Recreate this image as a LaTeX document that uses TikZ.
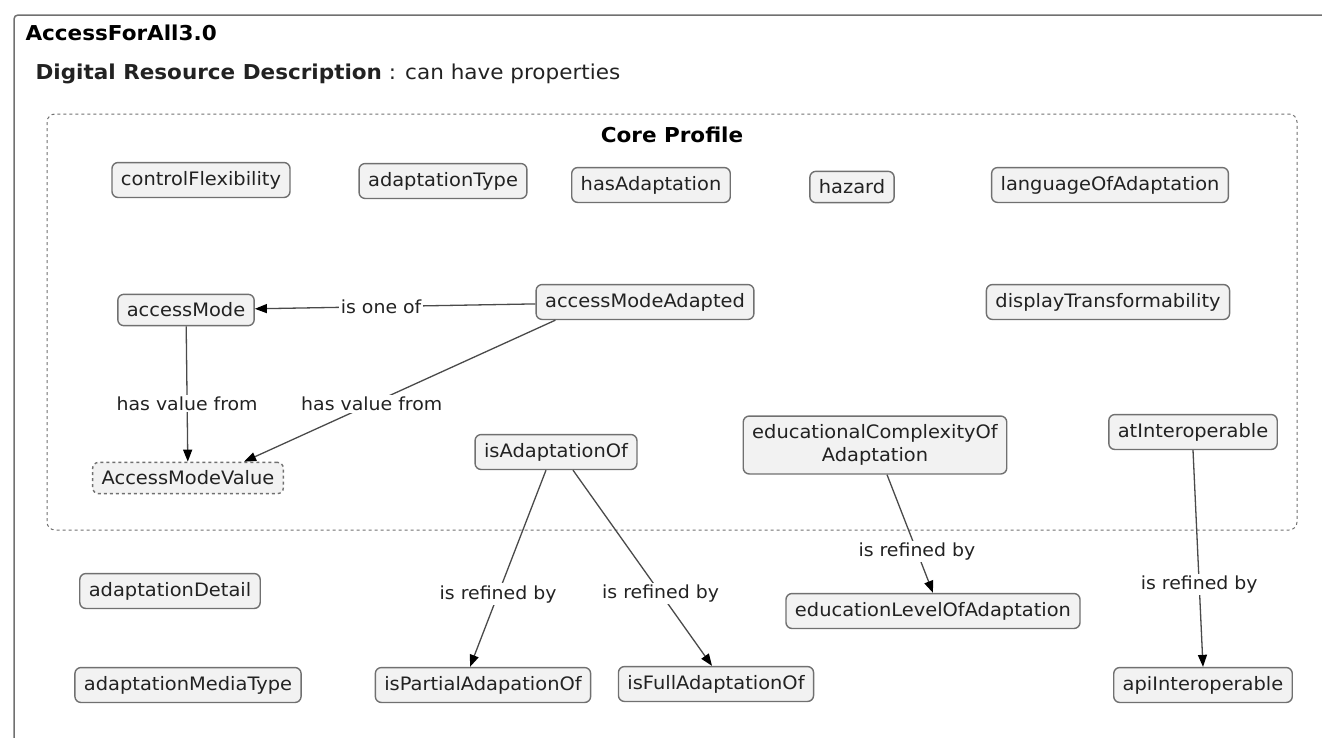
\documentclass[tikz,border=0pt]{standalone}
\usepackage{fontspec}
\setmainfont{DejaVu Sans}[FakeStretch=1.05]
\usetikzlibrary{arrows.meta}

\definecolor{boxgray}{HTML}{707070}
\definecolor{boxfill}{HTML}{F2F2F2}
\definecolor{linegray}{HTML}{4A4A4A}
\definecolor{textdark}{HTML}{222222}

\begin{document}
\begin{tikzpicture}[x=1pt, y=-1pt,
    prop/.style={draw=boxgray, fill=boxfill, rounded corners=6pt, line width=1.4pt,
        inner xsep=9pt, inner ysep=8.5pt, text=textdark, align=center,
        font=\fontsize{18.5}{23}\selectfont},
    valbox/.style={prop, dashed},
    rel/.style={draw=linegray, line width=1.3pt, -{Triangle[length=12pt,width=9pt,color=black]}},
    rellabel/.style={fill=white, text=textdark, inner sep=2pt,
        font=\fontsize{18}{21}\selectfont}]
    \useasboundingbox (0,0) rectangle (1322,737);

    % Outer frame and headings
    \draw[boxgray, line width=1.5pt, rounded corners=4pt] (1330,15) -- (14,15) -- (14,745);
    \node[anchor=west, text=black, font=\bfseries\fontsize{20.5}{24}\selectfont] (title) at (22,33) {AccessForAll3.0};
    \node[anchor=west, text=textdark, font=\fontsize{20.5}{24}\selectfont] (desc) at (32,74)
        {\textbf{Digital Resource Description} : can have properties};

    % Core profile
    \draw[boxgray, line width=1pt, dashed, dash pattern=on 3pt off 3pt, rounded corners=8pt]
        (47,114) rectangle (1297,530);
    \node[text=black, font=\bfseries\fontsize{20.5}{24}\selectfont] (core) at (672,135) {Core Profile};

    % Properties with no relations
    \foreach \name/\x/\y/\txt in {flex/201/180/controlFlexibility, type/443/181/adaptationType,
        has/651/185/hasAdaptation, hazard/852/187/hazard, lang/1110/185/languageOfAdaptation,
        display/1108/302/displayTransformability, detail/170/591/adaptationDetail,
        media/188/685/adaptationMediaType}{
        \node[prop] (\name) at (\x,\y) {\txt};
    }

    % Properties with relations
    \node[prop] (mode) at (186,310) {accessMode};
    \node[prop] (adapted) at (645,302) {accessModeAdapted};
    \node[valbox] (value) at (188,478) {AccessModeValue};
    \node[prop] (isadapt) at (556,452) {isAdaptationOf};
    \node[prop] (complex) at (875,445) {educationalComplexityOf\\Adaptation};
    \node[prop] (atinter) at (1193,432) {atInteroperable};
    \node[prop] (partial) at (483,685) {isPartialAdapationOf};
    \node[prop] (full) at (716,684) {isFullAdaptationOf};
    \node[prop] (level) at (933,611) {educationLevelOfAdaptation};
    \node[prop] (api) at (1203,685) {apiInteroperable};

    % Relations
    \draw[rel] (adapted) -- node[rellabel, pos=0.55] {is one of} (mode);
    \draw[rel] (mode) -- node[rellabel, pos=0.57] {has value from} (value);
    \draw[rel] ([xshift=20pt]adapted.south west) -- node[rellabel, pos=0.59] {has value from}
        ([xshift=-40pt]value.north east);
    \draw[rel] ([xshift=-10pt]isadapt.south) -- node[rellabel, pos=0.63] {is refined by}
        ([xshift=-13pt]partial.north);
    \draw[rel] ([xshift=17pt]isadapt.south) -- node[rellabel, pos=0.63] {is refined by}
        ([xshift=-4pt]full.north);
    \draw[rel] ([xshift=12pt]complex.south) -- node[rellabel, pos=0.65] {is refined by} (level.north);
    \draw[rel] (atinter.south) -- node[rellabel, pos=0.62] {is refined by} (api.north);

\end{tikzpicture}
\end{document}
